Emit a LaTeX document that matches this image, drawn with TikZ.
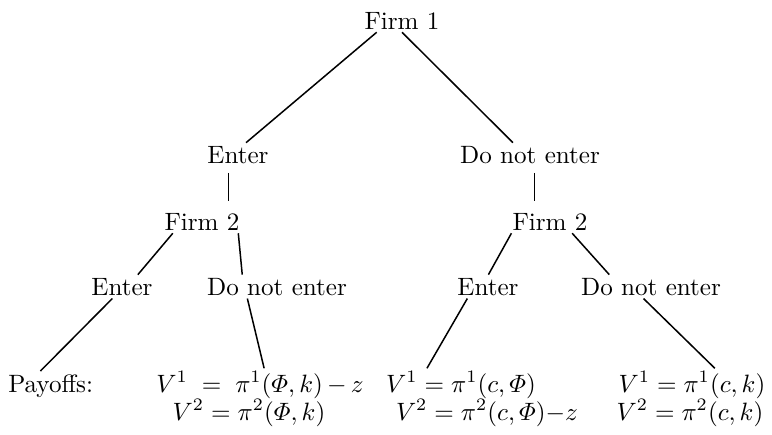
\documentclass[tikz,border=0pt]{standalone}
\usepackage{amsmath}
\begin{document}
\begin{tikzpicture}[x=0.014cm, y=-0.014cm, line width=0.6pt,
    every node/.style={inner sep=1pt, anchor=base},
    stem/.style={shorten <=2.5pt, shorten >=3.3pt}]
    \useasboundingbox (0,0) rectangle (772,435);

    % decision nodes
    \node (firm1) at (402,29) {Firm 1};
    \node (enter1) at (238,163) {Enter};
    \node (noenter1) at (530,163) {Do not enter};
    \node (firm2a) at (202,230) {Firm 2};
    \node (firm2b) at (550,230) {Firm 2};
    \node (enter2a) at (122,295) {Enter};
    \node (noenter2a) at (277,295) {Do not enter};
    \node (enter2b) at (488,295) {Enter};
    \node (noenter2b) at (651,295) {Do not enter};

    % payoffs
    \node[anchor=base west] (payoffs) at (5,392) {Payoffs:};
    \node (pay1a) at (260,392) {$V^1 \;=\; \pi^1(\varPhi,k)\,{-}\,z$};
    \node (pay1b) at (249,420) {$V^2 = \pi^2(\varPhi,k)$};
    \node (pay2a) at (461,392) {$V^1 = \pi^1(c,\varPhi)$};
    \node (pay2b) at (487,420) {$V^2 = \pi^2(c,\varPhi){-}z$};
    \node (pay3a) at (692,392) {$V^1 = \pi^1(c,k)$};
    \node (pay3b) at (690,420) {$V^2 = \pi^2(c,k)$};

    \draw (firm1.205) -- (enter1.56);
    \draw (firm1.south) -- (noenter1.145);
    \draw[stem] (enter1.231) -- (enter1.231 |- firm2a.north);
    \draw[stem] (noenter1.290) -- (noenter1.290 |- firm2b.north);
    \draw (firm2a.202) -- (enter2a.37);
    \draw (firm2a.342) -- (noenter2a.161);
    \draw (firm2b.197) -- (enter2b.88);
    \draw (firm2b.332) -- (noenter2b.164);
    \draw (enter2a.231) -- (payoffs.125);
    \draw (noenter2a.202) -- (pay1a.76);
    \draw (enter2b.210) -- (pay2a.154);
    \draw (noenter2b.238) -- (pay3a.36);
\end{tikzpicture}
\end{document}
